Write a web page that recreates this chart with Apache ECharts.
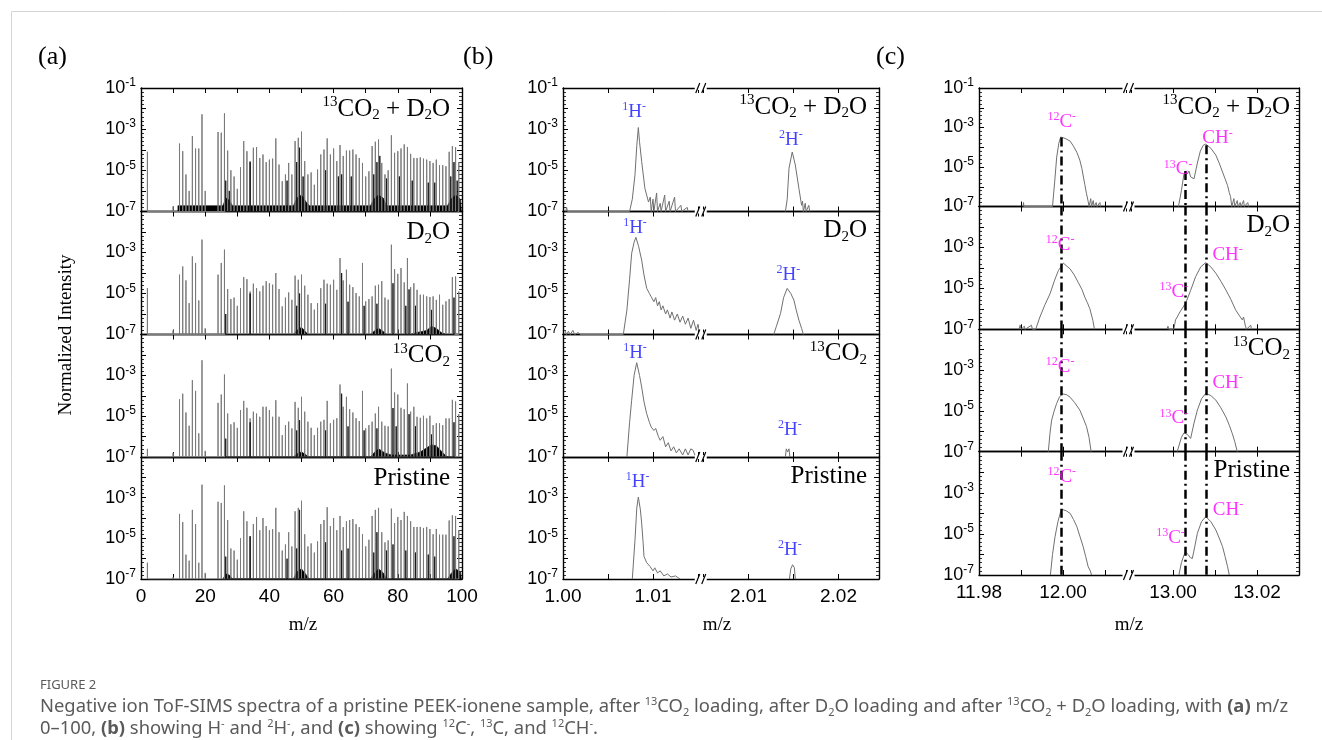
<!DOCTYPE html>
<html><head><meta charset="utf-8">
<script src="https://cdn.jsdelivr.net/npm/echarts@6/dist/echarts.min.js"></script>
<style>html,body{margin:0;padding:0;background:#fff}#c{width:1322px;height:740px}</style>
</head><body><div id="c"></div>
<script>
// ---------------- DATA (log10 of normalized intensity) ----------------
const rowNames = ['13CO2 + D2O', 'D2O', '13CO2', 'Pristine'];
const massesA = [2,10,12,13,14,15,16,17,18,19,20,24,25,26,27,28,29,30,31,32,33,34,35,36,37,38,39,40,41,42,43,44,45,46,47,48,49,50,51,52,53,54,55,56,57,58,59,60,61,62,63,64,65,66,67,68,69,70,71,72,73,74,75,76,77,78,79,80,81,82,83,84,85,86,87,88,89,90,91,92,93,94,95,96,97,98,99];
const a_13CO2_D2O = [-4.1,-6.75,-3.7,-4.07,-5.2,-6.0,-3.34,-3.94,-3.94,-2.28,-6.0,
 -3.14,-3.17,-2.23,-4.04,-5.0,-5.3,-5.9,-4.85,-3.58,-4.07,
 -4.55,-3.9,-3.87,-4.4,-4.23,-4.6,-4.48,-4.43,-3.45,-4.72,
 -5.53,-5.2,-4.64,-5.2,-3.58,-3.42,-3.12,-4.55,-5.2,-5.1,
 -5.7,-4.96,-4.23,-3.99,-3.45,-4.23,-3.94,-4.55,-3.77,-4.3,
 -4.04,-4.04,-3.99,-4.23,-4.4,-4.64,-5.3,-5.05,-3.82,-3.61,
 -3.5,-4.64,-5.2,-5.0,-3.3,-4.15,-4.07,-3.94,-3.74,-3.87,
 -4.2,-4.4,-4.4,-4.37,-4.43,-4.48,-4.55,-4.64,-4.48,-4.75,
 -4.75,-4.8,-4.1,-3.82,-3.87,-4.6];
const a_D2O = [-4.74,-6.8,-4.08,-3.68,-4.36,-5.47,-3.19,-3.51,-5.34,-2.37,-6.7,
 -4.08,-3.51,-2.86,-4.78,-5.27,-5.2,-5.6,-4.74,-4.2,-4.3,
 -4.9,-4.52,-4.74,-4.9,-4.62,-4.4,-4.5,-4.57,-4.0,-4.78,
 -5.63,-5.2,-4.95,-5.31,-4.13,-4.33,-4.08,-4.62,-5.06,-5.47,
 -5.79,-5.47,-4.74,-4.33,-4.52,-4.57,-4.33,-4.82,-3.27,-4.36,
 -3.84,-4.57,-4.69,-4.98,-5.14,-3.51,-5.38,-5.27,-5.14,-4.62,
 -4.57,-4.4,-5.2,-5.3,-2.62,-3.81,-4.04,-3.76,-4.46,-3.27,
 -4.69,-4.5,-4.82,-5.06,-5.06,-5.14,-5.17,-5.14,-5.31,-5.06,
 -5.55,-5.38,-5.27,-4.2,-4.17,-4.9];
const a_13CO2 = [-6.6,-6.8,-4.17,-3.9,-4.82,-5.47,-3.24,-3.76,-5.84,-2.26,-6.7,
 -4.35,-3.94,-2.96,-4.87,-5.4,-5.3,-5.57,-4.7,-4.25,-4.59,
 -5.11,-4.78,-4.87,-5.03,-4.54,-4.54,-4.7,-5.03,-4.22,-5.03,
 -5.93,-5.44,-5.27,-5.6,-4.3,-4.59,-4.05,-4.78,-5.27,-5.57,
 -5.93,-5.57,-5.27,-5.18,-4.25,-5.35,-5.18,-5.1,-3.45,-4.54,
 -4.05,-4.66,-4.82,-5.1,-5.24,-3.76,-5.6,-5.44,-5.27,-4.87,
 -4.54,-5.27,-5.47,-5.5,-2.67,-3.84,-3.94,-4.59,-4.66,-3.4,
 -4.78,-4.54,-5.03,-5.08,-4.98,-5.11,-4.98,-5.44,-5.35,-5.35,
 -5.44,-5.11,-5.11,-4.2,-4.28,-4.9];
const a_Pristine = [-6.2,-6.9,-3.8,-4.2,-5.8,-6.1,-3.6,-4.3,-6.2,-2.36,-6.7,
 -3.2,-3.26,-2.4,-4.1,-5.5,-5.6,-6.05,-5.0,-3.67,-4.16,
 -4.9,-4.3,-3.95,-4.6,-4.0,-4.4,-4.6,-4.55,-3.5,-4.7,
 -5.6,-5.3,-4.7,-5.4,-3.67,-3.5,-3.15,-4.8,-5.4,-5.25,
 -5.7,-5.15,-4.3,-4.1,-3.47,-4.4,-4.0,-4.6,-3.9,-4.45,
 -4.16,-4.1,-4.05,-4.3,-4.45,-4.8,-5.4,-5.07,-3.9,-3.6,
 -3.5,-4.7,-5.2,-5.1,-3.54,-4.25,-3.95,-4.1,-3.7,-3.9,
 -4.16,-4.44,-4.44,-4.44,-4.49,-4.44,-4.54,-4.8,-4.54,-4.82,
 -4.82,-4.82,-4.12,-3.87,-3.9,-4.6];
// secondary (dark) peaks  [m/z, log10 I]
const aDark_13CO2_D2O = [[26.4,-5.5],[27.5,-6.0],[34,-4.6],[45.5,-5.5],[48.5,-4.6],[49.4,-3.9],[50.5,-5.3],[57.5,-5.0],[61.5,-5.3],[62.5,-5.2],[65.5,-5.3],[72.5,-5.2],[73.5,-4.6],[74.4,-4.3],[76.5,-5.4],[80.5,-5.3],[84.5,-5.5],[89.5,-5.6],[91.5,-5.6],[96.5,-5.3],[97.5,-4.6],[98.5,-5.5]];
const aDark_D2O = [[26.4,-6.0],[34,-5.0],[48.5,-5.6],[49.4,-5.0],[57.5,-5.5],[62.5,-4.0],[64.5,-5.4],[69.5,-5.6],[73.5,-5.5],[78.5,-4.5],[82.5,-5.6],[83.5,-4.8],[85.5,-5.6],[90.5,-5.8],[97.5,-5.2]];
const aDark_13CO2 = [[26.4,-6.1],[34,-5.3],[48.5,-5.7],[49.4,-5.2],[57.5,-5.7],[62.5,-3.9],[64.5,-5.5],[69.5,-5.7],[73.5,-5.6],[78.5,-4.6],[79.5,-5.5],[83.5,-4.9],[85.5,-5.5],[90.5,-5.9],[97.5,-5.3]];
const aDark_Pristine = [[26.4,-5.9],[34,-4.9],[45.5,-6.0],[48.5,-5.5],[49.4,-3.6],[57.5,-5.2],[62.5,-5.6],[64.5,-5.5],[72.5,-5.7],[73.5,-4.7],[76.5,-5.6],[78.5,-5.3],[82.5,-5.6],[85.5,-5.7],[89.5,-5.8],[91.5,-5.9],[97.5,-4.9]];
// baseline clusters [m/z, log10 I]
const aFloor_13CO2_D2O = [[11.5,-7],[11.5,-6.72],[25.5,-6.72],[26.5,-6.35],[27.5,-6.45],[28.5,-6.72],[47.5,-6.72],[48.5,-6.35],[50,-6.2],[51.5,-6.55],[52.5,-6.72],[71.5,-6.72],[72.5,-6.4],[74,-6.2],[75.5,-6.35],[76.5,-6.72],[95.5,-6.72],[96.5,-6.4],[98,-6.2],[99.5,-6.4],[99.8,-7]];
const aFloor_D2O = [[47.5,-7],[48.5,-6.8],[50,-6.65],[51.5,-6.9],[52,-7],[71.5,-7],[72.5,-6.85],[74,-6.7],[75.5,-6.85],[76.5,-7],[84,-7],[86,-6.9],[89,-6.8],[90.5,-6.6],[92,-6.7],[93.5,-6.9],[95,-7]];
const aFloor_13CO2 = [[47.5,-7],[48.5,-6.85],[50,-6.75],[51.5,-6.9],[52,-7],[71.5,-7],[72.5,-6.8],[74,-6.6],[76,-6.8],[78,-6.9],[84,-6.9],[87,-6.75],[89,-6.55],[90.5,-6.4],[92,-6.45],[93.5,-6.7],[95,-6.95],[96,-7]];
const aFloor_Pristine = [[25.5,-7],[26.5,-6.75],[27.5,-6.8],[28.5,-7],[47.5,-7],[48.5,-6.65],[50,-6.5],[51.5,-6.8],[52.5,-7],[71.5,-7],[72.5,-6.75],[74,-6.5],[75.5,-6.7],[76.5,-7],[95.5,-7],[96.5,-6.75],[98,-6.5],[99.5,-6.65],[99.8,-7]];

// panel (b): H- and 2H- [m/z, log10 I]
const b_13CO2_D2O_H = [[1.0003,-7],[1.0004,-6.8],[1.0005,-7],[1.0074,-7],[1.0077,-6.4],[1.0080,-5.2],[1.0082,-3.8],[1.00837,-2.92],[1.0085,-3.6],[1.00874,-4.57],[1.0091,-5.88],[1.0095,-6.54],[1.0097,-6.3],[1.0098,-7],[1.0100,-6.4],[1.0101,-7],[1.0104,-6.1],[1.0105,-7],[1.0108,-6.6],[1.0109,-7],[1.0113,-6.2],[1.0114,-7],[1.0118,-6.5],[1.0119,-7],[1.0124,-6.3],[1.0125,-7],[1.0131,-6.7],[1.0132,-7],[1.0138,-6.8],[1.0139,-7]];
const b_13CO2_D2O_D = [[2.0141,-7],[2.0143,-6.4],[2.0145,-4.9],[2.01486,-4.11],[2.0152,-4.74],[2.0156,-5.88],[2.0159,-6.7],[2.0160,-6.5],[2.0161,-7],[2.0163,-6.6],[2.0164,-7],[2.0167,-6.7],[2.0168,-7]];
const b_D2O_H = [[1.0002,-6.8],[1.0004,-7],[1.0006,-6.85],[1.0008,-7],[1.0011,-6.8],[1.0013,-7],[1.0017,-6.9],[1.0019,-7],[1.0067,-7],[1.0071,-5.81],[1.0074,-4.3],[1.00763,-3.04],[1.0079,-2.5],[1.0081,-2.26],[1.0084,-2.7],[1.00874,-3.37],[1.0090,-4.1],[1.0093,-4.75],[1.0096,-5.0],[1.0098,-5.16],[1.0101,-5.4],[1.0103,-5.2],[1.0105,-5.6],[1.0107,-5.4],[1.0109,-5.8],[1.0111,-5.6],[1.0114,-6.0],[1.0116,-5.8],[1.0119,-6.2],[1.0121,-5.9],[1.0124,-6.3],[1.0127,-6.0],[1.013,-6.4],[1.0133,-6.1],[1.0136,-6.5],[1.0139,-6.2],[1.0142,-6.7],[1.0145,-6.3],[1.0148,-6.8],[1.0150,-6.5],[1.0152,-7]];
const b_D2O_D = [[2.0128,-7],[2.0131,-6.6],[2.01356,-5.97],[2.0139,-5.2],[2.0143,-4.75],[2.0147,-5.0],[2.01504,-5.32],[2.0153,-5.8],[2.0156,-6.3],[2.0159,-6.7],[2.0161,-7]];
const b_13CO2_H = [[1.0071,-7],[1.0074,-5.3],[1.00763,-4.22],[1.0079,-3.0],[1.00819,-2.38],[1.0085,-3.0],[1.00874,-3.57],[1.0090,-4.3],[1.0093,-4.88],[1.0096,-5.3],[1.0098,-5.53],[1.0101,-5.7],[1.0103,-5.6],[1.0106,-6.0],[1.0108,-6.18],[1.0111,-6.0],[1.0114,-6.5],[1.0117,-6.3],[1.0120,-6.7],[1.0123,-6.5],[1.0126,-6.8],[1.0129,-6.6],[1.0133,-6.9],[1.0136,-6.6],[1.0139,-6.9],[1.0142,-6.6],[1.01445,-6.67],[1.0147,-6.95],[1.0150,-7]];
const b_13CO2_D = [[2.0141,-7],[2.0142,-6.6],[2.01435,-6.75],[2.0145,-6.6],[2.0146,-7]];
const b_Pristine_H = [[1.0077,-7],[1.0080,-5.07],[1.0082,-3.5],[1.00837,-2.97],[1.0086,-3.6],[1.00874,-4.25],[1.0089,-5.2],[1.0090,-5.89],[1.0093,-6.2],[1.00967,-6.38],[1.0100,-6.6],[1.0102,-6.45],[1.0105,-6.7],[1.0108,-6.6],[1.0112,-6.85],[1.0116,-6.75],[1.0120,-6.9],[1.0125,-6.85],[1.0130,-7]];
const b_Pristine_D = [[2.01455,-7],[2.0147,-6.5],[2.0149,-6.3],[2.0151,-6.45],[2.0152,-7]];
// label anchors [m/z, log10 I] for 1H- and 2H-
const bLabelH = [[1.0079,-2.17],[1.0080,-1.81],[1.0080,-1.92],[1.0083,-2.21]];
const bLabelD = [[2.0147,-3.52],[2.01442,-4.1],[2.0146,-5.68],[2.0146,-5.56]];

// panel (c): 12C- and 13C-/CH-
const c_13CO2_D2O_12C = [[11.9905,-7],[11.9906,-6.8],[11.9907,-7],[11.9975,-7],[11.998,-5.8],[11.9985,-4.5],[11.999,-3.8],[11.99945,-3.48],[12.0005,-3.55],[12.0017,-3.69],[12.0025,-3.95],[12.0033,-4.26],[12.004,-4.65],[12.0045,-5.08],[12.0052,-5.9],[12.0056,-6.35],[12.006,-6.75],[12.0062,-7],[12.0066,-6.6],[12.0068,-7],[12.0072,-6.7],[12.0074,-7],[12.0079,-6.8],[12.0081,-7],[12.0088,-6.8],[12.0089,-7]];
const c_13CO2_D2O_13 = [[13.0013,-7],[13.002,-6.2],[13.0026,-5.37],[13.003,-5.2],[13.0034,-5.35],[13.0038,-5.2],[13.0042,-5.5],[13.005,-5.6],[13.0058,-4.8],[13.0065,-4.2],[13.0072,-3.9],[13.0078,-3.84],[13.009,-4.05],[13.0102,-4.4],[13.011,-4.8],[13.0117,-5.2],[13.0124,-5.6],[13.013,-5.94],[13.0134,-6.3],[13.0137,-6.5],[13.014,-7],[13.0145,-6.6],[13.0147,-7],[13.0153,-6.7],[13.0155,-7],[13.016,-6.8],[13.0162,-7],[13.0168,-6.7],[13.017,-7],[13.0178,-6.8],[13.018,-7]];
const c_D2O_12C = [[11.9895,-7],[11.9898,-6.8],[11.99,-7],[11.9908,-6.85],[11.991,-7],[11.9925,-6.8],[11.9927,-7],[11.9935,-7],[11.9945,-6.4],[11.9957,-5.8],[11.9969,-5.27],[11.998,-4.6],[11.9989,-4.13],[12.0001,-3.77],[12.0017,-4.05],[12.0027,-4.35],[12.0036,-4.7],[12.0045,-5.05],[12.0052,-5.43],[12.0058,-5.7],[12.0064,-6.0],[12.0071,-6.56],[12.0075,-7]];
const c_D2O_13 = [[12.9985,-7],[12.9988,-6.85],[12.999,-7],[13.0002,-7],[13.0006,-6.54],[13.001,-6.4],[13.0018,-6.1],[13.003,-5.73],[13.0042,-5.1],[13.0054,-4.42],[13.0066,-3.95],[13.0078,-3.74],[13.009,-3.95],[13.0102,-4.26],[13.0114,-4.65],[13.0126,-5.08],[13.0138,-5.55],[13.0149,-6.05],[13.0157,-6.3],[13.0165,-6.54],[13.0168,-6.4],[13.0172,-6.8],[13.0175,-7],[13.0185,-6.8],[13.0187,-7]];
const c_13CO2_12C = [[11.9965,-7],[11.9969,-6.1],[11.9973,-5.45],[11.9979,-5.0],[11.9985,-4.63],[11.9992,-4.3],[11.9999,-4.17],[12.0008,-4.2],[12.0017,-4.33],[12.0028,-4.6],[12.004,-4.96],[12.0048,-5.35],[12.0056,-5.77],[12.0062,-6.3],[12.0067,-7]];
const c_13CO2_13 = [[13.001,-7],[13.002,-6.3],[13.0026,-6.08],[13.003,-6.1],[13.0034,-6.15],[13.0038,-6.2],[13.0042,-6.35],[13.005,-5.6],[13.0058,-4.96],[13.0068,-4.4],[13.0078,-4.14],[13.009,-4.25],[13.0102,-4.47],[13.0114,-4.85],[13.0126,-5.3],[13.0134,-5.7],[13.0141,-6.1],[13.0147,-6.5],[13.0153,-7]];
const c_Pristine_12C = [[11.997,-7],[11.9975,-6.0],[11.9981,-5.14],[11.9988,-4.4],[11.9994,-3.95],[11.9999,-3.81],[12.0008,-3.88],[12.0017,-4.0],[12.0025,-4.3],[12.0033,-4.65],[12.004,-5.1],[12.0048,-5.62],[12.0054,-6.1],[12.006,-6.6],[12.0065,-6.8],[12.0068,-7]];
const c_Pristine_13 = [[13.0014,-7],[13.002,-6.4],[13.0026,-6.04],[13.003,-5.88],[13.0036,-6.0],[13.0041,-6.15],[13.0046,-6.2],[13.0052,-5.6],[13.0058,-4.97],[13.0068,-4.4],[13.0078,-4.16],[13.009,-4.4],[13.0102,-4.81],[13.011,-5.2],[13.0118,-5.62],[13.0124,-6.1],[13.013,-6.6],[13.0134,-7]];
// reference (dash-dot) lines: m/z of 12C-, 13C-, CH-; top of each line in first row
const cRefMz = [11.9996, 13.003, 13.0078];
const cRefTopRow1 = [-3.5, -5.2, -3.9];
// label anchors
const cLabel12C = [[11.9997,-2.71],[11.9993,-2.88],[11.9993,-2.83],[11.9997,-2.22]];
const cLabel13C = [[13.0012,-5.12],[13.0002,-5.16],[13.0002,-5.37],[12.9994,-5.21]];
const cLabelCH  = [[13.0106,-3.55],[13.013,-3.37],[13.013,-3.62],[13.0131,-3.84]];

// ---------------- LAYOUT / STYLE ----------------
const SANS = '"Liberation Sans", Arial, sans-serif';
const SERIF = '"Liberation Serif", "Times New Roman", serif';
const CAP = '"Noto Sans", sans-serif';
const RAB = [88, 211.5, 334.5, 457, 579];
const RC = [88, 206.5, 329.3, 451.7, 575];
const PA = {l:141, r:462};
const PB = {l:563, m1:698, m2:703.5, r:879};
const PC = {l:979, m1:1126, m2:1131, r:1299};

const aRows = [a_13CO2_D2O, a_D2O, a_13CO2, a_Pristine];
const aDark = [aDark_13CO2_D2O, aDark_D2O, aDark_13CO2, aDark_Pristine];
const aFloor = [aFloor_13CO2_D2O, aFloor_D2O, aFloor_13CO2, aFloor_Pristine];
const bH = [b_13CO2_D2O_H, b_D2O_H, b_13CO2_H, b_Pristine_H];
const bD = [b_13CO2_D2O_D, b_D2O_D, b_13CO2_D, b_Pristine_D];
const c12 = [c_13CO2_D2O_12C, c_D2O_12C, c_13CO2_12C, c_Pristine_12C];
const c13 = [c_13CO2_D2O_13, c_D2O_13, c_13CO2_13, c_Pristine_13];
const rowRich = ['{p|13}{n|CO}{b|2}{n| + D}{b|2}{n|O}', '{n|D}{b|2}{n|O}', '{p|13}{n|CO}{b|2}', '{n|Pristine}'];

const grids = [], xAxes = [], yAxes = [], series = [], graphics = [];
function addGrid(l, t, w, h) { grids.push({left:l, top:t, width:w, height:h, containLabel:false, outerBoundsMode:'none'}); return grids.length - 1; }
function yLab(hideTop) {
  return {show:true, margin:5,
    formatter: v => { if (hideTop && v === -1) return ''; return Math.abs(v) % 2 === 1 ? '{b|10}{s|' + v + '}' : ''; },
    rich: {b:{fontSize:18, fontFamily:SANS, color:'#000', lineHeight:22},
           s:{fontSize:12, fontFamily:SANS, color:'#000', lineHeight:12, verticalAlign:'top'}}};
}
function addY(g, pos, lab) {
  yAxes.push({type:'value', gridIndex:g, position:pos, min:-7, max:-1, interval:1,
    axisLine:{show:true, onZero:false, lineStyle:{color:'#000', width:1.4}},
    axisTick:{show:true, inside:true, length:5, lineStyle:{color:'#000', width:1}},
    minorTick:{show:true, splitNumber:5, length:3, lineStyle:{color:'#000', width:0.8}},
    axisLabel: lab || {show:false}, splitLine:{show:false}, minorSplitLine:{show:false}});
  return yAxes.length - 1;
}
function addX(g, pos, min, max, interval, minorSplit, fmt) {
  xAxes.push({type:'value', gridIndex:g, position:pos, min:min, max:max, interval:interval,
    axisLine:{show:true, onZero:false, lineStyle:{color:'#000', width:1.4}},
    axisTick:{show:true, inside:true, length:5, lineStyle:{color:'#000', width:1}},
    minorTick:{show:minorSplit > 1, splitNumber:minorSplit || 2, length:5, lineStyle:{color:'#000', width:1}},
    axisLabel: fmt ? {show:true, margin:8, fontSize:19, fontFamily:SANS, color:'#000', formatter:fmt, showMinLabel:true, showMaxLabel:true, hideOverlap:false} : {show:false},
    splitLine:{show:false}, minorSplitLine:{show:false}});
  return xAxes.length - 1;
}
function sticks(ms, vs) { const d = []; ms.forEach((m, i) => { if (vs[i] == null) return; d.push([m, -7], [m, vs[i]], [m, -7]); }); return d; }
function pairSticks(p) { const d = []; p.forEach(q => d.push([q[0], -7], [q[0], q[1]], [q[0], -7])); return d; }
const fmt2 = v => Math.abs(v * 100 - Math.round(v * 100)) < 1e-6 ? v.toFixed(2) : '';
const fmt2even = v => (Math.abs(v * 100 - Math.round(v * 100)) < 1e-6 && Math.round(v * 100) % 2 === 0) ? v.toFixed(2) : '';
function lineSeries(xi, yi, data, color, extra) {
  return Object.assign({type:'line', xAxisIndex:xi, yAxisIndex:yi, data:data, showSymbol:false, symbol:'none',
    lineStyle:{color:color, width:1}, itemStyle:{color:color}, animation:false, silent:true, clip:true, z:3}, extra || {});
}
function labelSeries(xi, yi, pts, texts, color) {
  return {type:'scatter', xAxisIndex:xi, yAxisIndex:yi, symbolSize:1, itemStyle:{color:'rgba(0,0,0,0)'}, silent:true, animation:false, z:5,
    data: pts.map((p, i) => ({value:p, label:{formatter:texts[i]}})),
    label:{show:true, position:'inside', rich:{
      n:{fontFamily:SERIF, fontSize:19, color:color, lineHeight:22},
      s:{fontFamily:SERIF, fontSize:12, color:color, lineHeight:12, verticalAlign:'top'}}}};
}
const dashDot = {color:'#000', width:2.5, type:[9, 4, 2, 4]};

for (let r = 0; r < 4; r++) {
  const top = RAB[r], h = RAB[r + 1] - RAB[r];
  // ---- panel (a)
  let g = addGrid(PA.l, top, PA.r - PA.l, h);
  let xb = addX(g, 'bottom', 0, 100, 20, 2, r === 3 ? (v => String(v)) : null);
  addX(g, 'top', 0, 100, 20, 2, null);
  let yl = addY(g, 'left', yLab(r > 0));
  addY(g, 'right', null);
  series.push(lineSeries(xb, yl, aFloor[r], '#000', {areaStyle:{color:'#000', opacity:1, origin:'start'}, lineStyle:{color:'#000', width:0.6}}));
  series.push(lineSeries(xb, yl, sticks(massesA, aRows[r]), '#7a7a7a'));
  series.push(lineSeries(xb, yl, pairSticks(aDark[r]), '#1a1a1a'));

  // ---- panel (b) left segment
  g = addGrid(PB.l, top, PB.m1 - PB.l, h);
  xb = addX(g, 'bottom', 1.0, 1.015, 0.005, 0, r === 3 ? fmt2 : null);
  addX(g, 'top', 1.0, 1.015, 0.005, 0, null);
  yl = addY(g, 'left', yLab(r > 0));
  series.push(lineSeries(xb, yl, bH[r], '#707070'));
  series.push(labelSeries(xb, yl, [bLabelH[r]], ['{s|1}{n|H}{s|-}'], '#1414ff'));
  // right segment
  g = addGrid(PB.m2, top, PB.r - PB.m2, h);
  xb = addX(g, 'bottom', 2.005, 2.0245, 0.005, 0, r === 3 ? fmt2 : null);
  addX(g, 'top', 2.005, 2.0245, 0.005, 0, null);
  yl = addY(g, 'right', null);
  series.push(lineSeries(xb, yl, bD[r], '#707070'));
  series.push(labelSeries(xb, yl, [bLabelD[r]], ['{s|2}{n|H}{s|-}'], '#1414ff'));

  // ---- panel (c)
  const ct = RC[r], ch = RC[r + 1] - RC[r];
  g = addGrid(PC.l, ct, PC.m1 - PC.l, ch);
  xb = addX(g, 'bottom', 11.98, 12.015, 0.01, 0, r === 3 ? fmt2even : null);
  addX(g, 'top', 11.98, 12.015, 0.01, 0, null);
  yl = addY(g, 'left', yLab(r > 0));
  series.push(lineSeries(xb, yl, c12[r], '#707070', {markLine:{silent:true, animation:false, symbol:['none','none'], label:{show:false}, lineStyle:dashDot,
    data:[[{coord:[cRefMz[0], r === 0 ? cRefTopRow1[0] : -1]}, {coord:[cRefMz[0], -7]}]]}}));
  series.push(labelSeries(xb, yl, [cLabel12C[r]], ['{s|12}{n|C}{s|-}'], '#ff00ff'));
  g = addGrid(PC.m2, ct, PC.r - PC.m2, ch);
  xb = addX(g, 'bottom', 12.99, 13.03, 0.01, 0, r === 3 ? fmt2even : null);
  addX(g, 'top', 12.99, 13.03, 0.01, 0, null);
  yl = addY(g, 'right', null);
  series.push(lineSeries(xb, yl, c13[r], '#707070', {markLine:{silent:true, animation:false, symbol:['none','none'], label:{show:false}, lineStyle:dashDot,
    data:[[{coord:[cRefMz[1], r === 0 ? cRefTopRow1[1] : -1]}, {coord:[cRefMz[1], -7]}],
          [{coord:[cRefMz[2], r === 0 ? cRefTopRow1[2] : -1]}, {coord:[cRefMz[2], -7]}]]}}));
  series.push(labelSeries(xb, yl, [cLabel13C[r], cLabelCH[r]], ['{s|13}{n|C}{s|-}', '{n|CH}{s|-}'], '#ff00ff'));
}

// ---------------- TEXT / DECORATION ----------------
const rowRichStyle = {n:{font:'25px ' + SERIF, fill:'#000', lineHeight:28}, p:{font:'15px ' + SERIF, fill:'#000', lineHeight:15, verticalAlign:'top'}, b:{font:'15px ' + SERIF, fill:'#000', lineHeight:15, verticalAlign:'bottom'}};
for (let r = 0; r < 4; r++) {
  [[PA.r - 12, RAB[r] + 21], [PB.r - 12, RAB[r] + 19], [PC.r - 9, RC[r] + 19]].forEach(p => {
    graphics.push({type:'text', x:p[0], y:p[1], silent:true, z:10, style:{text:rowRich[r], rich:rowRichStyle, align:'right', verticalAlign:'middle'}});
  });
}
[['(a)', 38], ['(b)', 463], ['(c)', 876]].forEach(t => graphics.push({type:'text', x:t[1], y:57, silent:true, style:{text:t[0], font:'26px ' + SERIF, fill:'#000', verticalAlign:'middle'}}));
graphics.push({type:'text', x:66, y:335, rotation:Math.PI / 2, silent:true, style:{text:'Normalized Intensity', font:'19px ' + SERIF, fill:'#000', align:'center', verticalAlign:'middle'}});
[303, 717, 1129].forEach(x => graphics.push({type:'text', x:x, y:625, silent:true, style:{text:'m/z', font:'19px ' + SERIF, fill:'#000', align:'center', verticalAlign:'middle'}}));
// axis-break marks
function brk(x, y) {
  graphics.push({type:'rect', shape:{x:x - 6, y:y - 2, width:12, height:4}, style:{fill:'#fff'}, silent:true, z:20});
  graphics.push({type:'line', shape:{x1:x - 5, y1:y + 5, x2:x - 1, y2:y - 5}, style:{stroke:'#000', lineWidth:1.2}, silent:true, z:21});
  graphics.push({type:'line', shape:{x1:x + 1, y1:y + 5, x2:x + 5, y2:y - 5}, style:{stroke:'#000', lineWidth:1.2}, silent:true, z:21});
}
RAB.forEach(y => brk((PB.m1 + PB.m2) / 2, y));
RC.forEach(y => brk((PC.m1 + PC.m2) / 2, y));
// outer frame
graphics.push({type:'rect', shape:{x:11.5, y:11.5, width:1400, height:800}, style:{fill:'none', stroke:'#d4d4d4', lineWidth:1}, silent:true, z:0});
// caption
const capRich = {r:{font:'18.4px ' + CAP, fill:'#5a5a5a', lineHeight:22}, bd:{font:'bold 18.4px ' + CAP, fill:'#5a5a5a', lineHeight:22},
  sp:{font:'11px ' + CAP, fill:'#5a5a5a', lineHeight:11, verticalAlign:'top'}, sb:{font:'11px ' + CAP, fill:'#5a5a5a', lineHeight:11, verticalAlign:'bottom'}};
graphics.push({type:'text', x:40, y:685, silent:true, style:{text:'FIGURE 2', font:'13px ' + CAP, fill:'#5a5a5a', verticalAlign:'middle'}});
graphics.push({type:'text', x:40, y:707, silent:true, style:{rich:capRich, verticalAlign:'middle',
  text:'{r|Negative ion ToF-SIMS spectra of a pristine PEEK-ionene sample, after }{sp|13}{r|CO}{sb|2}{r| loading, after D}{sb|2}{r|O loading and after }{sp|13}{r|CO}{sb|2}{r| + D}{sb|2}{r|O loading, with }{bd|(a)}{r| m/z}'}});
graphics.push({type:'text', x:40, y:729, silent:true, style:{rich:capRich, verticalAlign:'middle',
  text:'{r|0–100, }{bd|(b)}{r| showing H}{sp|-}{r| and }{sp|2}{r|H}{sp|-}{r|, and }{bd|(c)}{r| showing }{sp|12}{r|C}{sp|-}{r|, }{sp|13}{r|C, and }{sp|12}{r|CH}{sp|-}{r|.}'}});

const chart = echarts.init(document.getElementById('c'), null, {renderer:'canvas', width:1322, height:740});
chart.setOption({animation:false, backgroundColor:'#fff', grid:grids, xAxis:xAxes, yAxis:yAxes, series:series, graphic:{elements:graphics}, tooltip:{show:false}});
</script></body></html>
